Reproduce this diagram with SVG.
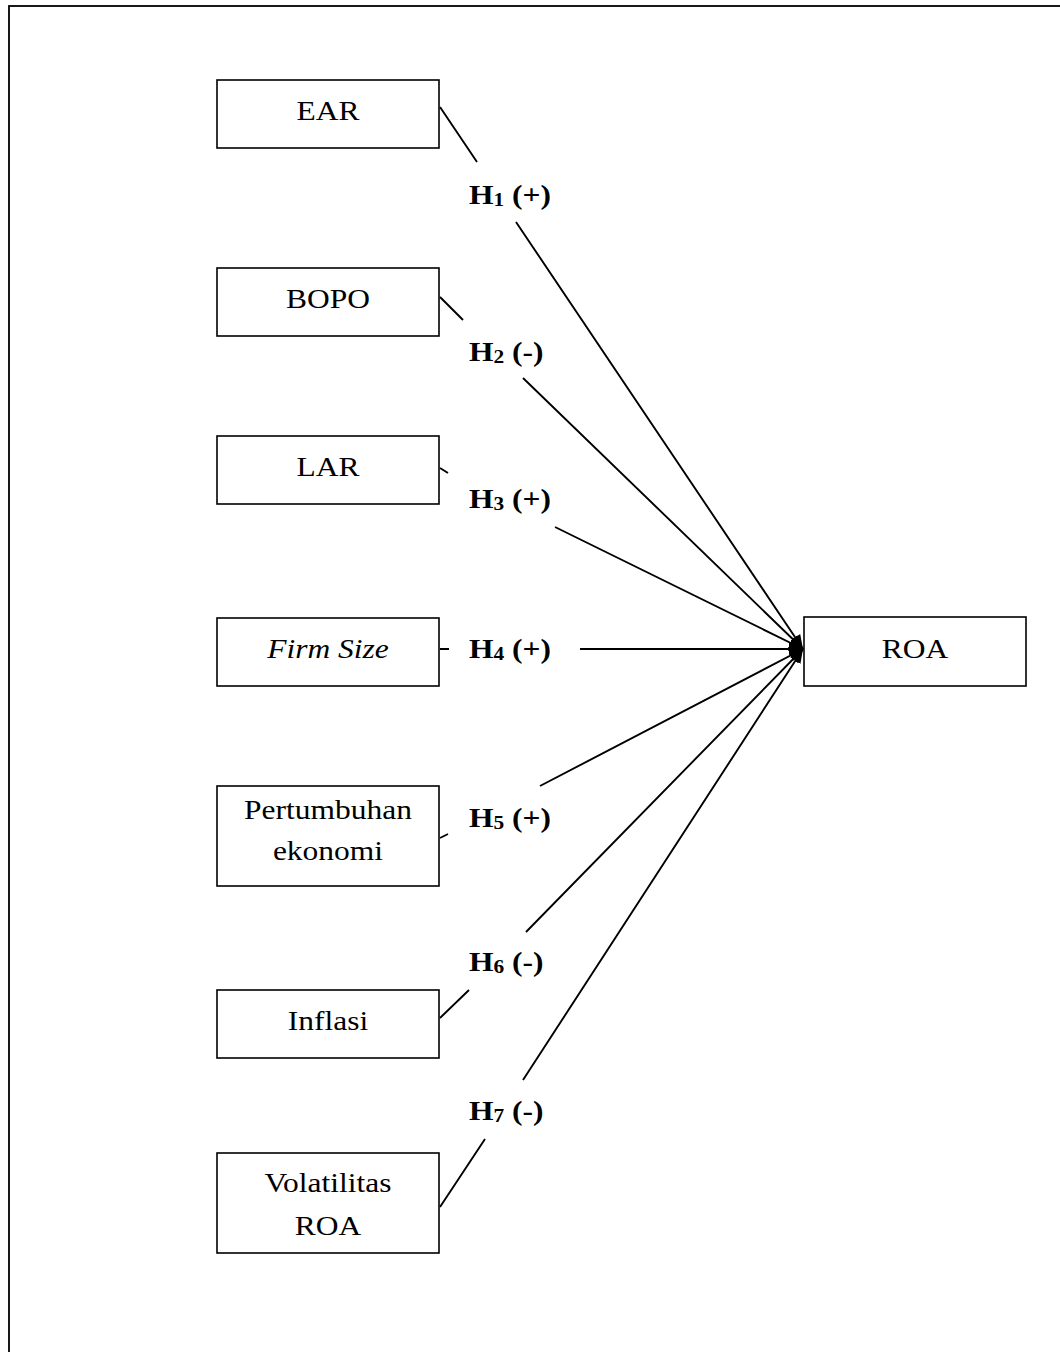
<svg xmlns="http://www.w3.org/2000/svg" width="1060" height="1352" viewBox="0 0 1060 1352">
<defs>
<style>
.box{fill:#fff;stroke:#000;stroke-width:1.6}
.t{font-family:"Liberation Serif","Times New Roman",serif;font-size:28px;fill:#000}
.conn{fill:none;stroke:#000;stroke-width:1.9}
.b{font-weight:bold}
</style>
<marker id="arr" markerUnits="userSpaceOnUse" markerWidth="16" markerHeight="14" refX="14" refY="6" orient="auto" viewBox="0 0 16 12">
<path d="M0,0 L14,6 L0,12 z" fill="#000"/>
</marker>
</defs>
<rect x="0" y="0" width="1060" height="1352" fill="#fff"/>
<rect x="9" y="6" width="1200" height="1500" fill="none" stroke="#000" stroke-width="1.8"/>

<g id="connectors">
<path class="conn" marker-end="url(#arr)" d="M440,107 L477,162 M516,222 L803,649"/>
<path class="conn" marker-end="url(#arr)" d="M440,297 L463,320 M523,378 L803,649"/>
<path class="conn" marker-end="url(#arr)" d="M440,468 L448,473 M555,527 L803,649"/>
<path class="conn" marker-end="url(#arr)" d="M440,649 L449,649 M580,649 L803,649"/>
<path class="conn" marker-end="url(#arr)" d="M440,838 L448,834 M540,786 L803,649"/>
<path class="conn" marker-end="url(#arr)" d="M440,1018 L469,990 M526,932 L803,649"/>
<path class="conn" marker-end="url(#arr)" d="M440,1207 L485,1139 M523,1080 L803,649"/>
</g>

<g id="labels" class="t b">
<text transform="translate(469,204) scale(1.125,1)">H<tspan font-size="19" dy="2">1</tspan><tspan dy="-2"> (+)</tspan></text>
<text transform="translate(469,361) scale(1.125,1)">H<tspan font-size="19" dy="2">2</tspan><tspan dy="-2"> (-)</tspan></text>
<text transform="translate(469,508) scale(1.125,1)">H<tspan font-size="19" dy="2">3</tspan><tspan dy="-2"> (+)</tspan></text>
<text transform="translate(469,658) scale(1.125,1)">H<tspan font-size="19" dy="2">4</tspan><tspan dy="-2"> (+)</tspan></text>
<text transform="translate(469,827) scale(1.125,1)">H<tspan font-size="19" dy="2">5</tspan><tspan dy="-2"> (+)</tspan></text>
<text transform="translate(469,971) scale(1.125,1)">H<tspan font-size="19" dy="2">6</tspan><tspan dy="-2"> (-)</tspan></text>
<text transform="translate(469,1120) scale(1.125,1)">H<tspan font-size="19" dy="2">7</tspan><tspan dy="-2"> (-)</tspan></text>
</g>

<g id="node-ear">
<rect class="box" x="217" y="80" width="222" height="68"/>
<text class="t" text-anchor="middle" transform="translate(328,120) scale(1.125,1)">EAR</text>
</g>
<g id="node-bopo">
<rect class="box" x="217" y="268" width="222" height="68"/>
<text class="t" text-anchor="middle" transform="translate(328,308) scale(1.125,1)">BOPO</text>
</g>
<g id="node-lar">
<rect class="box" x="217" y="436" width="222" height="68"/>
<text class="t" text-anchor="middle" transform="translate(328,476) scale(1.125,1)">LAR</text>
</g>
<g id="node-firmsize">
<rect class="box" x="217" y="618" width="222" height="68"/>
<text class="t" text-anchor="middle" font-style="italic" transform="translate(328,658) scale(1.125,1)">Firm Size</text>
</g>
<g id="node-pertumbuhan">
<rect class="box" x="217" y="786" width="222" height="100"/>
<text class="t" text-anchor="middle" transform="translate(328,819) scale(1.125,1)">Pertumbuhan</text>
<text class="t" text-anchor="middle" transform="translate(328,860) scale(1.125,1)">ekonomi</text>
</g>
<g id="node-inflasi">
<rect class="box" x="217" y="990" width="222" height="68"/>
<text class="t" text-anchor="middle" transform="translate(328,1030) scale(1.125,1)">Inflasi</text>
</g>
<g id="node-volatilitas">
<rect class="box" x="217" y="1153" width="222" height="100"/>
<text class="t" text-anchor="middle" transform="translate(328,1192) scale(1.125,1)">Volatilitas</text>
<text class="t" text-anchor="middle" transform="translate(328,1235) scale(1.125,1)">ROA</text>
</g>
<g id="node-roa">
<rect class="box" x="804" y="617" width="222" height="69"/>
<text class="t" text-anchor="middle" transform="translate(915,658) scale(1.125,1)">ROA</text>
</g>
</svg>
